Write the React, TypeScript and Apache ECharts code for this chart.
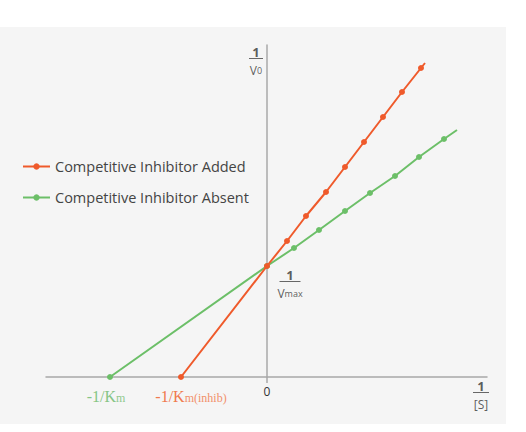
import React, { useEffect, useRef } from "react";
import * as echarts from "echarts";

// Lineweaver–Burk plot, arbitrary units (1/[S] on x, 1/V0 on y)
const addedX = [-8.6, 0, 2.0, 3.9, 5.9, 7.8, 9.7, 11.6, 13.5, 15.4];
const addedY = [0, 11.1, 13.6, 16.1, 18.5, 21.0, 23.5, 26.0, 28.5, 30.9];
const addedEnd = [15.8, 31.4];

const absentX = [-15.7, 0, 2.7, 5.2, 7.8, 10.3, 12.8, 15.2, 17.7];
const absentY = [0, 11.1, 12.9, 14.7, 16.6, 18.4, 20.1, 22.0, 23.8];
const absentEnd = [19.0, 24.7];

const X_MIN = -22.1;
const X_MAX = 22.0;
const Y_MIN = 0;
const Y_MAX = 33.2;

const seriesNames = ["Competitive Inhibitor Added", "Competitive Inhibitor Absent"];
const RED = "#ef5a2b";
const GREEN = "#6cbf68";
const AXIS = "#a8a8a8";
const SANS = "'Open Sans', 'Noto Sans', sans-serif";
const SERIF = "'Liberation Serif', 'DejaVu Serif', serif";

const fracRich = (barW: number) => ({
  n: { fontSize: 13, fontWeight: "bold", color: "#333", align: "center", lineHeight: 12, fontFamily: SANS },
  bar: { width: barW, height: 1, lineHeight: 1, fontSize: 1, backgroundColor: "#444", align: "center" },
  d: { fontSize: 12, color: "#333", align: "center", lineHeight: 22, fontFamily: SANS },
  s: { fontSize: 9, color: "#333", align: "center", lineHeight: 22, fontFamily: SANS },
});

export default function App() {
  const ref = useRef<HTMLDivElement>(null);
  useEffect(() => {
    if (!ref.current) return;
    const chart = echarts.init(ref.current, undefined, { renderer: "svg" });

    const addedData: any[] = addedX.map((x, i) => [x, addedY[i]]);
    addedData[0] = {
      value: [addedX[0], addedY[0]],
      label: {
        show: true,
        position: "bottom",
        distance: 8,
        offset: [10, 0],
        formatter: "{a|-1/K}{b|m(inhib)}",
        rich: {
          a: { fontSize: 16, color: "#f07a4e", fontFamily: SERIF },
          b: { fontSize: 12, color: "#f2906a", fontFamily: SERIF, padding: [3, 0, 0, 0] },
        },
      },
    };
    addedData.push({ value: addedEnd, symbol: "none" });

    const absentData: any[] = absentX.map((x, i) => [x, absentY[i]]);
    absentData[0] = {
      value: [absentX[0], absentY[0]],
      label: {
        show: true,
        position: "bottom",
        distance: 8,
        offset: [-4, 0],
        formatter: "{a|-1/K}{b|m}",
        rich: {
          a: { fontSize: 16, color: "#86c585", fontFamily: SERIF },
          b: { fontSize: 12, color: "#8fc98d", fontFamily: SERIF, padding: [3, 0, 0, 0] },
        },
      },
    };
    absentData.push({ value: absentEnd, symbol: "none" });

    const annotations = [
      {
        value: [0, Y_MAX],
        label: {
          show: true,
          position: [-11, 1],
          align: "center",
          verticalAlign: "top",
          formatter: "{n|1}\n{bar| }\n{d|V}{s|0}",
          rich: fracRich(14),
        },
      },
      {
        value: [0, absentY[1]],
        label: {
          show: true,
          position: [23, 3],
          align: "center",
          verticalAlign: "top",
          formatter: "{n|1}\n{bar| }\n{d|V}{s|max}",
          rich: fracRich(21),
        },
      },
      {
        value: [X_MAX, 0],
        label: {
          show: true,
          position: [-6, 3],
          align: "center",
          verticalAlign: "top",
          formatter: "{n|1}\n{bar| }\n{d|[S]}",
          rich: fracRich(16),
        },
      },
    ];

    chart.setOption({
      animation: false,
      backgroundColor: "#ffffff",
      graphic: [
        {
          type: "rect",
          z: -10,
          silent: true,
          shape: { x: 0, y: 27, width: 506, height: 397 },
          style: { fill: "#f5f5f5" },
        },
      ],
      legend: {
        orient: "vertical",
        left: 22,
        top: 159,
        padding: 0,
        itemWidth: 27,
        itemHeight: 8,
        itemGap: 16,
        data: seriesNames,
        textStyle: { fontSize: 14.5, color: "#444", fontFamily: SANS },
      },
      grid: { left: 46, right: 39, top: 45, bottom: 55, containLabel: false },
      xAxis: {
        type: "value",
        min: X_MIN,
        max: X_MAX,
        axisLine: { show: true, onZero: true, lineStyle: { color: AXIS, width: 1.5 } },
        axisTick: { show: true, customValues: [0], length: 6, inside: false, lineStyle: { color: AXIS, width: 1.5 } },
        axisLabel: {
          show: true,
          customValues: [0],
          formatter: () => "0",
          margin: 8,
          fontSize: 12,
          color: "#333",
          fontFamily: SANS,
        },
        splitLine: { show: false },
      },
      yAxis: {
        type: "value",
        min: Y_MIN,
        max: Y_MAX,
        axisLine: { show: true, onZero: true, lineStyle: { color: AXIS, width: 1.5 } },
        axisTick: { show: false },
        axisLabel: { show: false },
        splitLine: { show: false },
      },
      series: [
        {
          name: seriesNames[1],
          type: "line",
          data: absentData,
          symbol: "circle",
          symbolSize: 6,
          showAllSymbol: true,
          color: GREEN,
          lineStyle: { width: 2, color: GREEN },
          itemStyle: { color: GREEN },
          z: 2,
        },
        {
          name: seriesNames[0],
          type: "line",
          data: addedData,
          symbol: "circle",
          symbolSize: 6,
          showAllSymbol: true,
          color: RED,
          lineStyle: { width: 2, color: RED },
          itemStyle: { color: RED },
          z: 3,
        },
        {
          name: "annotations",
          type: "scatter",
          data: annotations,
          symbolSize: 0,
          silent: true,
          z: 5,
        },
      ],
    });
    return () => chart.dispose();
  }, []);
  return (
    <div
      ref={ref}
      style={{ position: "fixed", left: 0, top: 0, width: 526, height: 432, background: "#fff" }}
    />
  );
}
